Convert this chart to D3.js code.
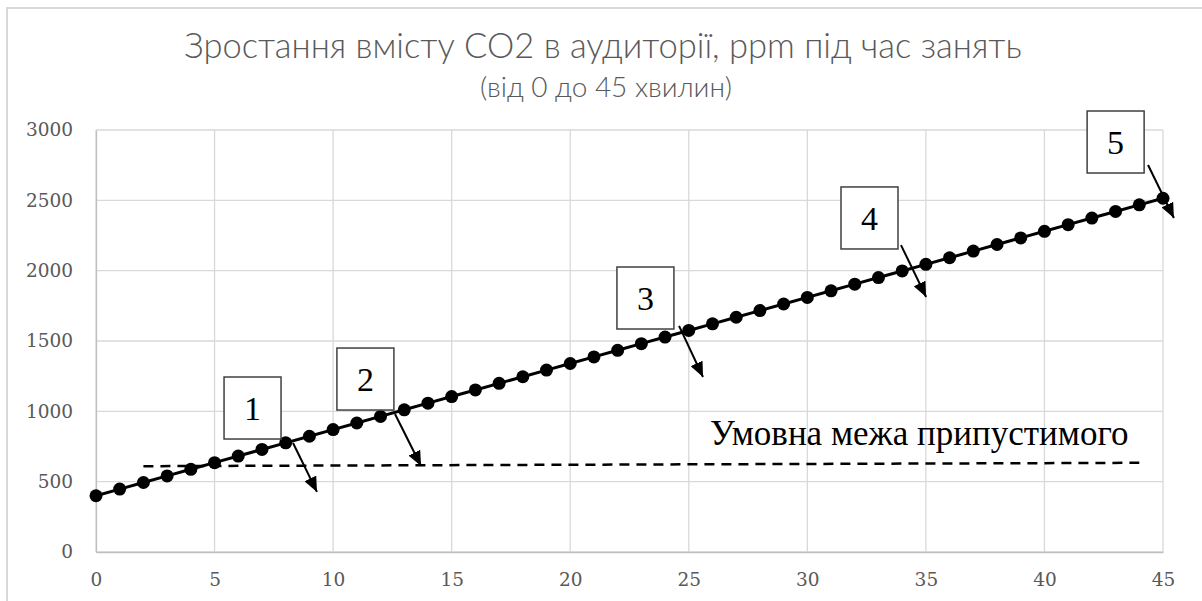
<!DOCTYPE html>
<html><head><meta charset="utf-8">
<script src="https://cdn.jsdelivr.net/npm/d3@7"></script>
<style>body{margin:0;background:#fff;} svg{display:block}</style>
</head><body><svg id="c" width="1202" height="601"></svg>
<script>
// ---- data ----
const minutes = [0,1,2,3,4,5,6,7,8,9,10,11,12,13,14,15,16,17,18,19,20,21,22,23,24,25,26,27,28,29,30,31,32,33,34,35,36,37,38,39,40,41,42,43,44,45];
const co2 = [400,447,494,541,588,635,682,729,776,823,870,917,964,1011,1058,1105,1152,1199,1246,1293,1340,1387,1434,1481,1528,1575,1622,1669,1716,1763,1810,1857,1904,1951,1998,2045,2092,2139,2186,2233,2280,2327,2374,2421,2468,2515];
const limitX = [2, 44.0];
const limitY = [610, 634];
const xTicks = [0,5,10,15,20,25,30,35,40,45];
const yTicks = [0,500,1000,1500,2000,2500,3000];
const titleText = "Зростання вмісту CO2 в аудиторії, ppm під час занять";
const subtitleText = "(від 0 до 45 хвилин)";
const limitLabel = "Умовна межа припустимого";
const boxLabels = ["1","2","3","4","5"];
const boxX = [5.40, 10.16, 21.97, 31.42, 41.80];
const boxY = [1244, 1450, 2026, 2595, 3135];
const arrowX1 = [8.31, 12.61, 24.59, 33.95, 44.37];
const arrowY1 = [775, 981, 1607, 2182, 2751];
const arrowX2 = [9.32, 13.71, 25.60, 35.01, 45.46];
const arrowY2 = [427, 611, 1244, 1813, 2374];

// ---- layout ----
const svg = d3.select("#c");
const x = d3.scaleLinear().domain([0,45]).range([96,1163]);
const y = d3.scaleLinear().domain([0,3000]).range([552,130]);
const gridColor = "#d9d9d9", textColor = "#595959";

// chart border
svg.append("path").attr("d","M7,601V8H1202").attr("fill","none").attr("stroke","#d9d9d9").attr("stroke-width",2);

// gridlines
svg.append("g").selectAll("line").data(yTicks).join("line")
  .attr("x1",x(0)).attr("x2",x(45)).attr("y1",d=>y(d)).attr("y2",d=>y(d))
  .attr("stroke",gridColor).attr("stroke-width",1.3);
svg.append("g").selectAll("line").data(xTicks).join("line")
  .attr("y1",y(0)).attr("y2",y(3000)).attr("x1",d=>x(d)).attr("x2",d=>x(d))
  .attr("stroke",gridColor).attr("stroke-width",1.3);

// axes
const yAxis = svg.append("g").attr("transform",`translate(${x(0)},0)`)
  .call(d3.axisLeft(y).tickValues(yTicks).tickFormat(d3.format("d")).tickSize(0).tickPadding(23));
const xAxis = svg.append("g").attr("transform",`translate(0,${y(0)})`)
  .call(d3.axisBottom(x).tickValues(xTicks).tickFormat(d3.format("d")).tickSize(0).tickPadding(21));
[yAxis,xAxis].forEach(g=>{
  g.attr("font-family",null).attr("font-size",null);
  g.select(".domain").attr("stroke","#bfbfbf").attr("stroke-width",1.3);
  g.selectAll("text").style("font-family","'DejaVu Serif', serif").style("font-size","18.5px").attr("fill",textColor);
});

// titles
svg.append("text").attr("x",603).attr("y",58).attr("text-anchor","middle")
  .style("font-family","Lato, 'Open Sans', sans-serif").style("font-weight",300)
  .style("font-size","34.5px").attr("fill",textColor).text(titleText);
svg.append("text").attr("x",606).attr("y",97).attr("text-anchor","middle")
  .style("font-family","Lato, 'Open Sans', sans-serif").style("font-weight",300)
  .style("font-size","28px").attr("fill",textColor).text(subtitleText);

// limit dashed line
const limitData = limitX.map((d,i)=>[d,limitY[i]]);
svg.append("path").datum(limitData)
  .attr("d", d3.line().x(d=>x(d[0])).y(d=>y(d[1])))
  .attr("fill","none").attr("stroke","#000").attr("stroke-width",2.5).attr("stroke-dasharray","10,7");
svg.append("text").attr("x",710).attr("y",445)
  .style("font-family","'Liberation Serif', 'Times New Roman', serif").style("font-size","35px")
  .attr("fill","#000").text(limitLabel);

// series
const series = minutes.map((m,i)=>[m,co2[i]]);
svg.append("path").datum(series)
  .attr("d", d3.line().x(d=>x(d[0])).y(d=>y(d[1])))
  .attr("fill","none").attr("stroke","#000").attr("stroke-width",3);
svg.append("g").selectAll("circle").data(series).join("circle")
  .attr("cx",d=>x(d[0])).attr("cy",d=>y(d[1])).attr("r",6.5).attr("fill","#000");

// arrows
svg.append("defs").append("marker").attr("id","ah")
  .attr("viewBox","0 0 15 13").attr("refX",15).attr("refY",6.5)
  .attr("markerWidth",15).attr("markerHeight",13).attr("markerUnits","userSpaceOnUse")
  .attr("orient","auto")
  .append("path").attr("d","M0,0L15,6.5L0,13Z").attr("fill","#000");
svg.append("g").selectAll("line").data(boxLabels).join("line")
  .attr("x1",(d,i)=>x(arrowX1[i])).attr("y1",(d,i)=>y(arrowY1[i]))
  .attr("x2",(d,i)=>x(arrowX2[i])).attr("y2",(d,i)=>y(arrowY2[i]))
  .attr("stroke","#000").attr("stroke-width",2).attr("marker-end","url(#ah)");

// boxes
const bw = 57, bh = 62;
const bg = svg.append("g").selectAll("g").data(boxLabels).join("g")
  .attr("transform",(d,i)=>`translate(${x(boxX[i])},${y(boxY[i])})`);
bg.append("rect").attr("width",bw).attr("height",bh).attr("fill","#fff")
  .attr("stroke","#404040").attr("stroke-width",1.5);
bg.append("text").attr("x",bw/2).attr("y",bh/2+12).attr("text-anchor","middle")
  .style("font-family","'Liberation Serif', 'Times New Roman', serif").style("font-size","34px")
  .attr("fill","#000").text(d=>d);
</script></body></html>
